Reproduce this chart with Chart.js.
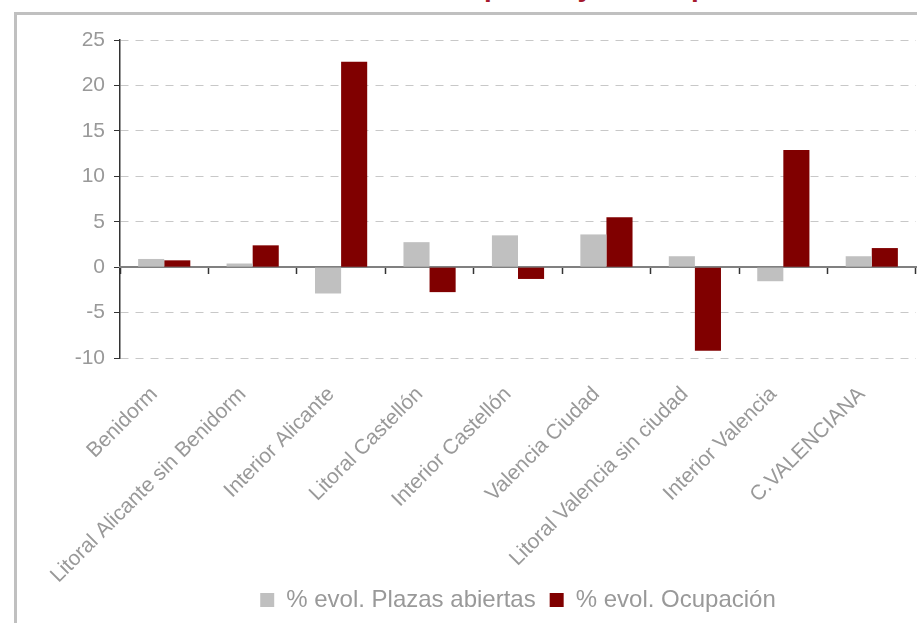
<!DOCTYPE html>
<html>
<head>
<meta charset="utf-8">
<script src="https://cdn.jsdelivr.net/npm/chart.js@4.4.1/dist/chart.umd.min.js"></script>
<style>
  html, body { margin: 0; padding: 0; background: #fff; overflow: hidden; }
  #wrap { position: relative; width: 917px; height: 623px; overflow: hidden; }
  #frame { position: absolute; left: 14px; top: 12px; width: 1000px; height: 1000px;
           border: 3px solid #c0c0c0; box-sizing: border-box; }
  #title { position: absolute; left: 302px; top: -27px; white-space: nowrap;
           font: bold 28px "Liberation Sans", Arial, sans-serif; line-height: 28px; color: #a6192e; }
  canvas { position: absolute; left: 0; top: 0; }
</style>
</head>
<body>
<div id="wrap">
  <div id="title">Evolución de plazas y de ocupación</div>
  <div id="frame"></div>
  <canvas id="chart" width="917" height="623"></canvas>
</div>
<script>
// ---------------------------------------------------------------------------
// Data
// ---------------------------------------------------------------------------
const categories = [
  'Benidorm',
  'Litoral Alicante sin Benidorm',
  'Interior Alicante',
  'Litoral Castellón',
  'Interior Castellón',
  'Valencia Ciudad',
  'Litoral Valencia sin ciudad',
  'Interior Valencia',
  'C.VALENCIANA',
];
const plazasAbiertas = [0.9, 0.4, -2.9, 2.75, 3.5, 3.6, 1.2, -1.55, 1.2];
const ocupacion      = [0.75, 2.4, 22.6, -2.75, -1.3, 5.5, -9.2, 12.9, 2.1];
const seriesNames    = ['% evol. Plazas abiertas', '% evol. Ocupación'];
const yMin = -10, yMax = 25, yStep = 5;

// Layout targets
const PLOT_LEFT   = 120;
const PLOT_BOTTOM = 358;
const X_AXIS_H    = 225;  // room for the rotated labels (down to y=583)
const LEGEND_UP   = 9;    // legend text sits a bit higher than its box

const textGray = '#999999';
Chart.defaults.font.family = '"Liberation Sans", Arial, sans-serif';

// move the legend up a little after layout (keeps item spacing wide)
const legendNudge = {
  id: 'legendNudge',
  afterLayout(chart) {
    const lg = chart.legend;
    if (lg) { lg.top -= LEGEND_UP; lg.bottom -= LEGEND_UP; }
  },
};

new Chart(document.getElementById('chart'), {
  type: 'bar',
  data: {
    labels: categories,
    datasets: [
      {
        label: seriesNames[0],
        data: plazasAbiertas,
        backgroundColor: '#c0c0c0',
        borderWidth: 0,
        barPercentage: 1,
        categoryPercentage: 0.59,
      },
      {
        label: seriesNames[1],
        data: ocupacion,
        backgroundColor: '#800000',
        borderWidth: 0,
        barPercentage: 1,
        categoryPercentage: 0.59,
      },
    ],
  },
  plugins: [legendNudge],
  options: {
    responsive: false,
    animation: false,
    layout: { padding: { top: 40, right: 1, bottom: -8, left: 0 } },
    plugins: {
      tooltip: { enabled: false },
      legend: {
        position: 'bottom',
        fullSize: false,          // centred under the plot area
        labels: {
          color: textGray,
          font: { size: 24 },
          boxWidth: 14,
          boxHeight: 14,
          padding: 14,
        },
      },
    },
    scales: {
      y: {
        min: yMin,
        max: yMax,
        ticks: { stepSize: yStep, color: textGray, font: { size: 21 }, padding: 9 },
        grid: {
          color: (c) => (c.tick && c.tick.value === 0 ? 'rgba(0,0,0,0)' : '#c8c8c8'),
          lineWidth: 1,
          tickLength: 6,
          tickColor: '#333333',
        },
        border: { color: '#333333', width: 1.5, dash: [8, 7] },
        afterFit: (s) => { s.width = PLOT_LEFT; s.paddingTop = 0; s.paddingBottom = 0; },
      },
      x: {
        grid: { display: false, drawTicks: false },
        border: { display: false },
        ticks: {
          color: textGray,
          font: { size: 21 },
          minRotation: 45,
          maxRotation: 45,
          autoSkip: false,
          padding: 24,
          labelOffset: -10,
        },
        afterFit: (s) => {
          s.height = X_AXIS_H;
          s.paddingLeft = 0;
          s.paddingRight = 0;
        },
      },
      // zero line with category tick marks
      x0: {
        type: 'category',
        axis: 'x',
        position: { y: 0 },
        offset: true,
        z: 1,
        ticks: { display: false },
        grid: {
          offset: true,
          drawOnChartArea: false,
          tickLength: 6,
          tickColor: '#333333',
          tickWidth: 1.5,
        },
        border: { color: '#808080', width: 2 },
        afterFit: (s) => { s.paddingLeft = 0; s.paddingRight = 0; },
      },
    },
  },
});
</script>
</body>
</html>
